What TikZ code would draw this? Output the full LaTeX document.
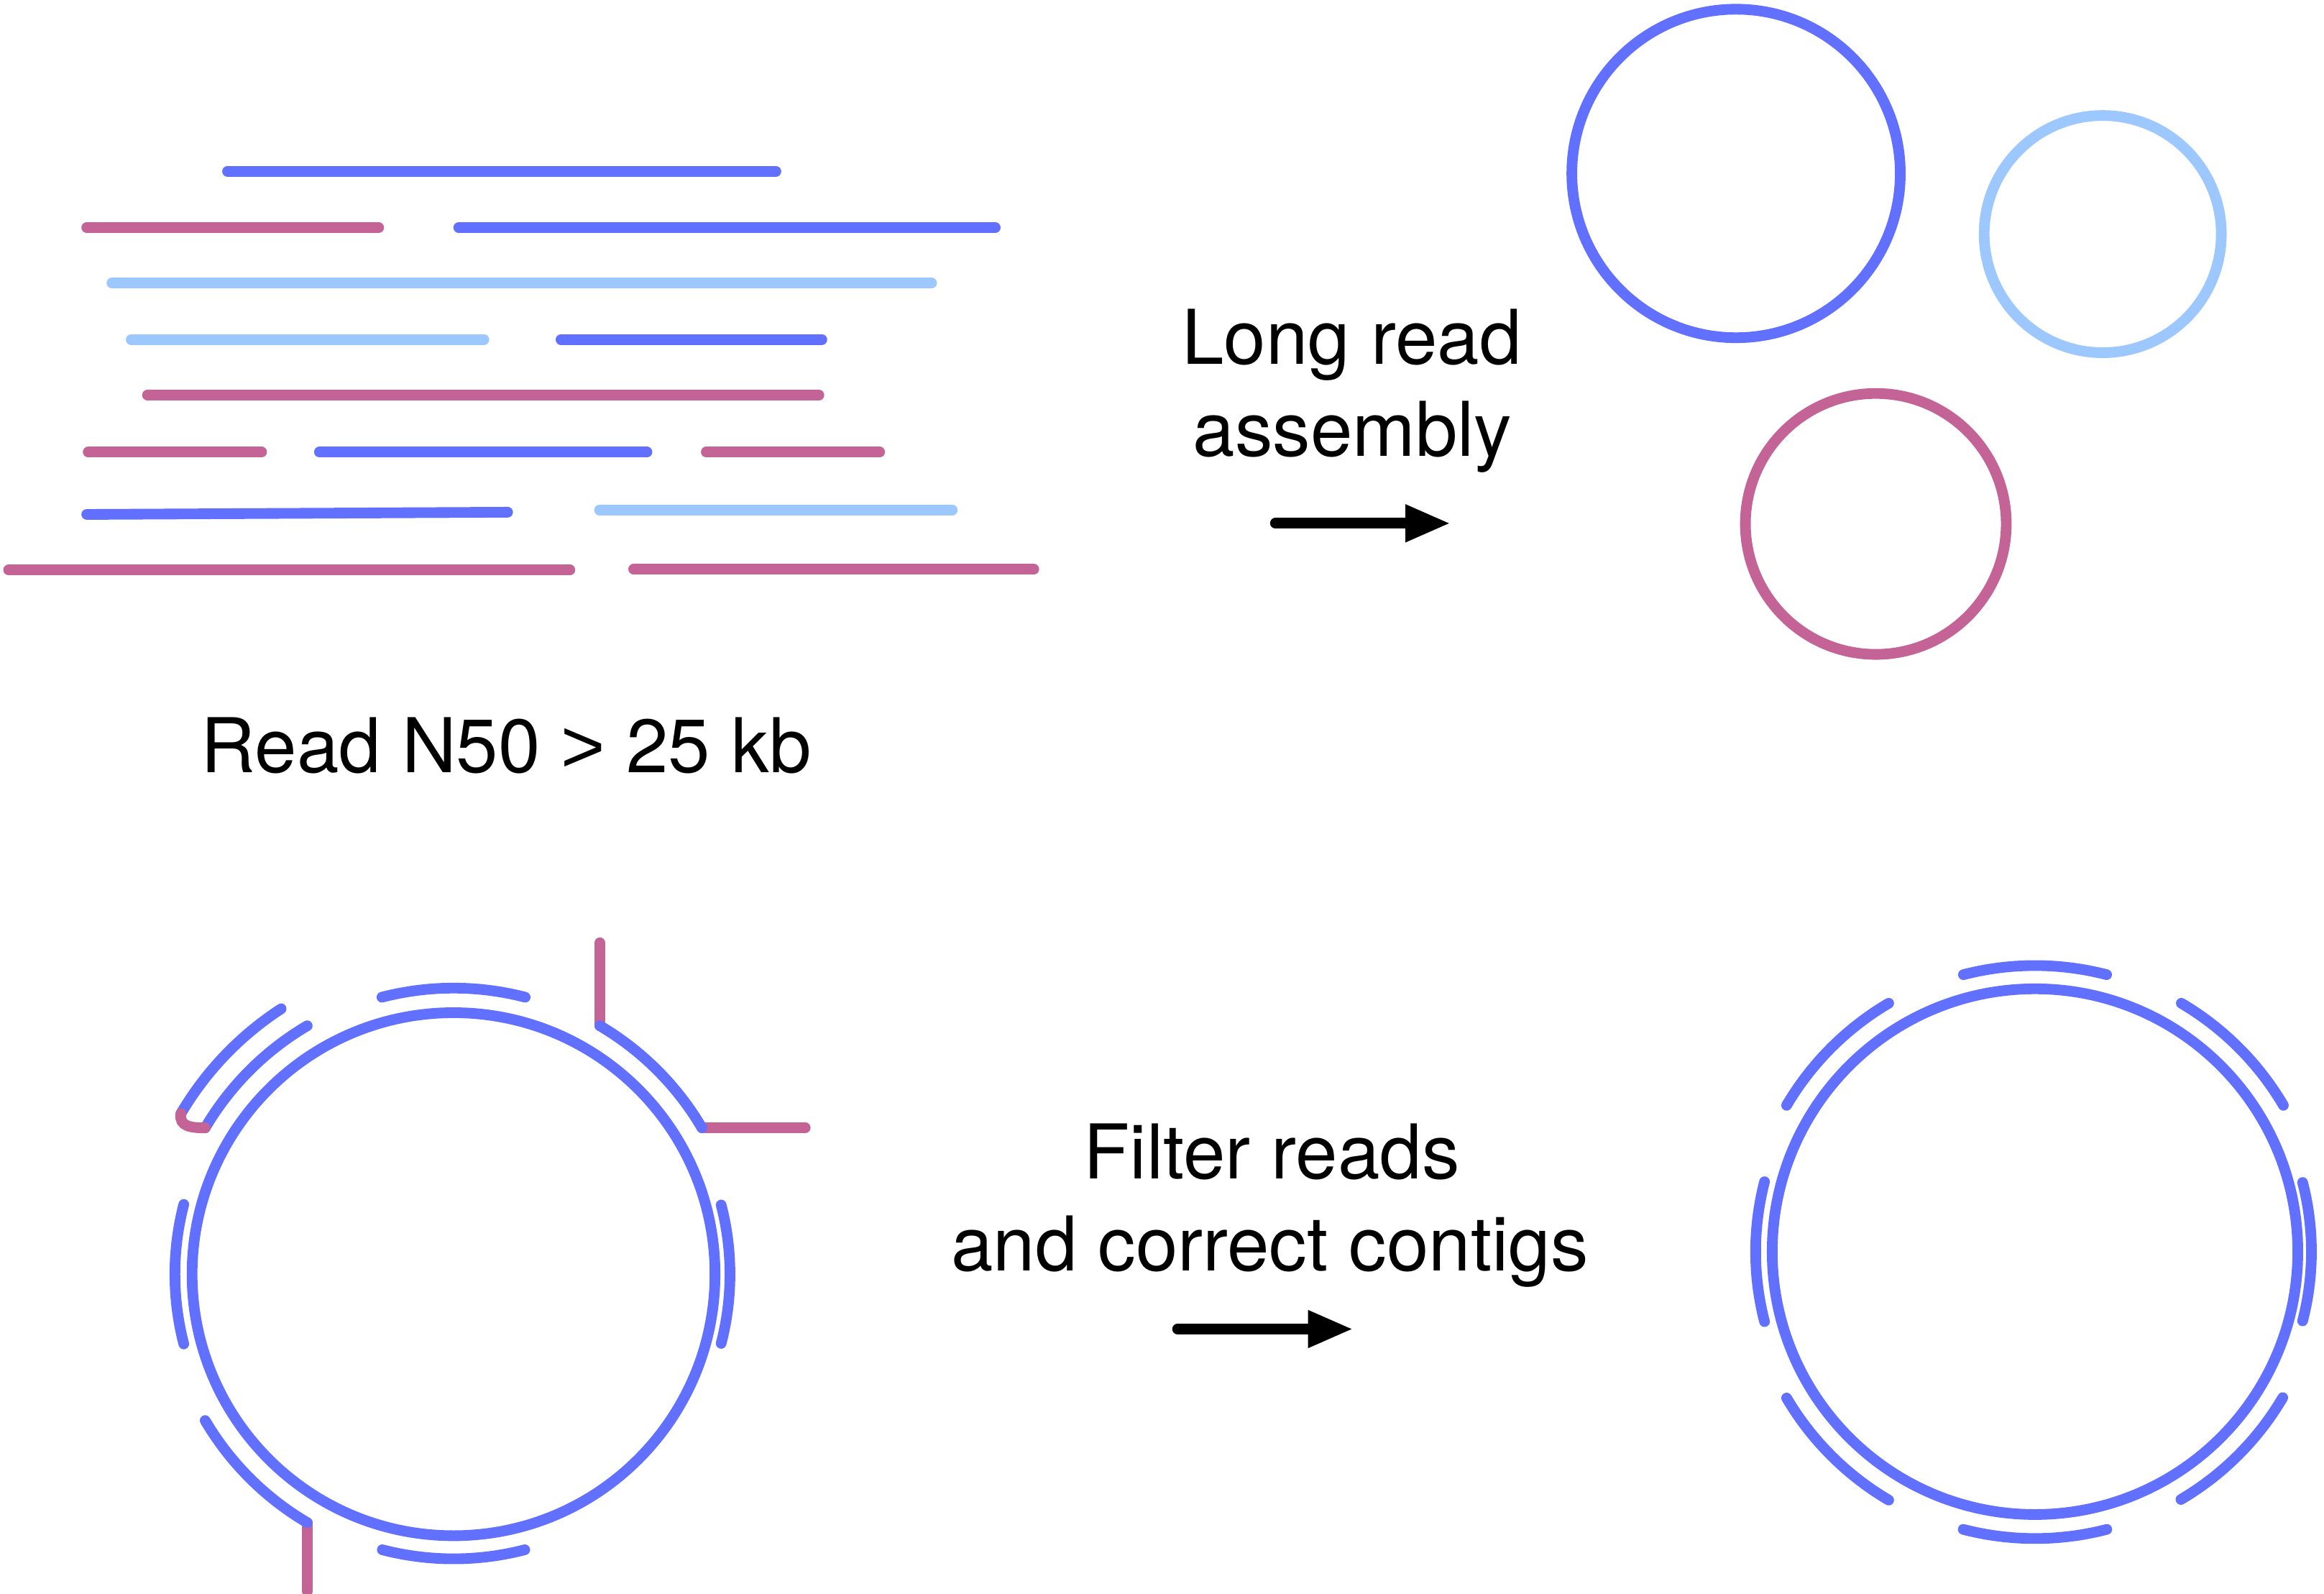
\documentclass[tikz,border=0pt]{standalone}
\usepackage{fontspec}
\setmainfont{TeX Gyre Heros}
\newfontfamily\gtfont{Liberation Sans}
\usetikzlibrary{arrows.meta}
\definecolor{readblue}{RGB}{97,112,255}
\definecolor{readpink}{RGB}{196,99,150}
\definecolor{readsky}{RGB}{157,199,255}
\tikzset{
  read/.style={line width=0.144cm, line cap=round},
  blue read/.style={read, draw=readblue},
  pink read/.style={read, draw=readpink},
  sky read/.style={read, draw=readsky},
  caption/.style={font=\fontsize{29}{35}\selectfont, anchor=base, inner sep=0pt},
  flow arrow/.style={line width=0.144cm, line cap=round, -{Triangle[length=0.61cm,width=0.47cm]}}
}
\begin{document}
\begin{tikzpicture}[x=0.02cm,y=0.02cm]
\useasboundingbox (0,0) rectangle (1568,-1074.8);
\draw[blue read] (153.5,-115.5) -- (523.5,-115.5);
\draw[pink read] (58.5,-153.5) -- (255.5,-153.5);
\draw[blue read] (309.5,-153.5) -- (671.5,-153.5);
\draw[sky read] (75.5,-191) -- (628.5,-191);
\draw[sky read] (88.5,-229) -- (326.5,-229);
\draw[blue read] (378.5,-229) -- (554.5,-229);
\draw[pink read] (99.5,-266.5) -- (552.5,-266.5);
\draw[pink read] (59.5,-305) -- (176.5,-305);
\draw[blue read] (215.5,-305) -- (436.5,-305);
\draw[pink read] (476.5,-305) -- (593.5,-305);
\draw[blue read] (58.5,-347) -- (342.5,-345.5);
\draw[sky read] (404.5,-344) -- (642.5,-344);
\draw[pink read] (5.8,-384.5) -- (384.5,-384.5);
\draw[pink read] (427.5,-384) -- (697.5,-384);
\node[caption] (n50) at (341.5,-521) {Read N50 {\gtfont>} 25 kb};
\node[caption] (lr1) at (912,-245.6) {Long read};
\node[caption] (lr2) at (912.5,-307.8) {assembly};
\coordinate (asmfrom) at (860.5,-353);
\coordinate (asmto) at (978.7,-353);
\draw[flow arrow] (asmfrom) -- (asmto);
\coordinate (ctgblue) at (1171.3,-117);
\coordinate (ctgsky) at (1418.7,-157.9);
\coordinate (ctgpink) at (1265.6,-353.4);
\draw[blue read] (ctgblue) circle[radius=110.8];
\draw[sky read] (ctgsky) circle[radius=80];
\draw[pink read] (ctgpink) circle[radius=88];
\coordinate (rawctr) at (306,-859.5);
\path (rawctr) ++(59.5:194.5) coordinate (jA)
      (rawctr) ++(30.5:194.5) coordinate (jB)
      (rawctr) ++(239.5:194.5) coordinate (jC)
      (rawctr) ++(149.5:213.5) coordinate (hA)
      (rawctr) ++(149.5:194.5) coordinate (hB);
\draw[pink read] (jA) -- ++(0,56);
\draw[pink read] (jB) -- ++(69.7,0);
\draw[pink read] (jC) -- ++(0,-46.3);
\draw[blue read] (rawctr) circle[radius=176.4];
\foreach \a/\r in {0/186.5,45/194.5,90/193,135/194.5,180/188,225/194.5,270/192}
  \draw[blue read] (rawctr) ++({\a-14.5}:\r) arc[start angle=\a-14.5, end angle=\a+14.5, radius=\r];
\draw[blue read] (rawctr) ++(123:213.5) arc[start angle=123, end angle=149.5, radius=213.5];
\draw[pink read] (hA) .. controls +(-100:9) and +(180:9) .. (hB);
\node[caption] (fr1) at (858,-795) {Filter reads};
\node[caption] (fr2) at (856.7,-857.4) {and correct contigs};
\coordinate (fixfrom) at (794.5,-896.5);
\coordinate (fixto) at (913,-896.5);
\draw[flow arrow] (fixfrom) -- (fixto);
\coordinate (fixctr) at (1373,-844.3);
\draw[blue read] (fixctr) circle[radius=177.3];
\foreach \a/\r in {0/186.5,45/194.5,90/193,135/194.5,180/188.5,225/194.5,270/193.5,315/194}
  \draw[blue read] (fixctr) ++({\a-14.5}:\r) arc[start angle=\a-14.5, end angle=\a+14.5, radius=\r];
\end{tikzpicture}
\end{document}
